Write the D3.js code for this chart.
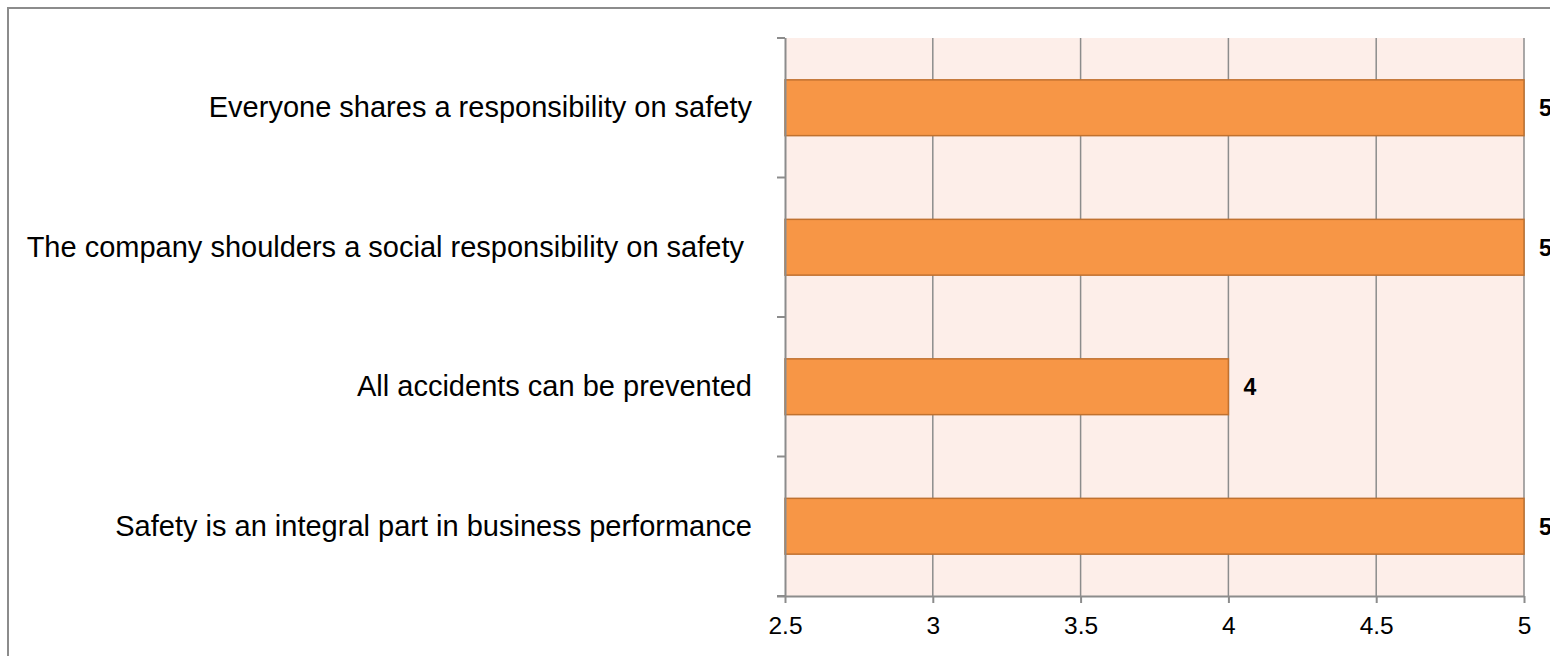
<!DOCTYPE html>
<html><head><meta charset="utf-8">
<script src="https://cdn.jsdelivr.net/npm/d3@7"></script>
<style>
html,body{margin:0;padding:0;background:#fff;}
svg{display:block;font-family:"Liberation Sans",Arial,sans-serif;}
</style></head>
<body>
<svg id="chart" width="1550" height="656"></svg>
<script>
const categories = [
  "Everyone shares a responsibility on safety",
  "The company shoulders a social responsibility on safety ",
  "All accidents can be prevented",
  "Safety is an integral part in business performance"
];
const values = [5, 5, 4, 5];
const xTicks = [2.5, 3, 3.5, 4, 4.5, 5];

const svg = d3.select("#chart");
const pLeft = 785, pRight = 1524, pTop = 38, pBottom = 596;

// outer border
svg.append("rect").attr("x", 8).attr("y", 8).attr("width", 1600).attr("height", 700)
  .attr("fill", "none").attr("stroke", "#8c8c8c").attr("stroke-width", 2);

const x = d3.scaleLinear().domain([2.5, 5]).range([pLeft, pRight]);
const y = d3.scaleBand().domain(categories).range([pTop, pBottom]).paddingInner(0.6).paddingOuter(0.3);

// plot background
svg.append("rect").attr("x", pLeft).attr("y", pTop).attr("width", pRight - pLeft).attr("height", pBottom - pTop)
  .attr("fill", "#fdeee9");

// vertical gridlines
svg.append("g").selectAll("line").data(xTicks.slice(1)).join("line")
  .attr("x1", d => x(d)).attr("x2", d => x(d)).attr("y1", pTop).attr("y2", pBottom)
  .attr("stroke", "#8c8c8c").attr("stroke-width", 1.5);

// bars
svg.append("g").selectAll("rect").data(categories).join("rect")
  .attr("x", x(2.5)).attr("y", d => y(d))
  .attr("width", (d, i) => x(values[i]) - x(2.5)).attr("height", y.bandwidth())
  .attr("fill", "#f79646").attr("stroke", "#c0712f").attr("stroke-width", 1.5);

// value labels
svg.append("g").selectAll("text").data(categories).join("text")
  .attr("x", (d, i) => x(values[i]) + 15).attr("y", d => y(d) + y.bandwidth() / 2)
  .attr("dy", "0.36em").attr("font-size", 23).attr("font-weight", "bold").attr("fill", "#000")
  .text((d, i) => values[i]);

// x axis
const xAxis = d3.axisBottom(x).tickValues(xTicks).tickSize(7).tickPadding(14)
  .tickFormat(d => d3.format("")(d));
const gx = svg.append("g").attr("transform", `translate(0,${pBottom})`).call(xAxis);
gx.select(".domain").attr("stroke", "#8c8c8c").attr("stroke-width", 2)
  .attr("d", `M${pLeft - 8},0.5H${pRight}`);
gx.selectAll(".tick line").attr("stroke", "#8c8c8c").attr("stroke-width", 2);
gx.selectAll(".tick text").attr("font-size", 24.5).attr("fill", "#000")
  .attr("font-family", "'Liberation Sans', Arial, sans-serif");

// y axis
const yAxis = d3.axisLeft(y).tickSize(0).tickPadding(33);
const gy = svg.append("g").attr("transform", `translate(${pLeft},0)`).call(yAxis);
gy.select(".domain").attr("stroke", "#8c8c8c").attr("stroke-width", 2).attr("d", `M0.5,${pTop}V${pBottom}`);
gy.selectAll(".tick text").attr("font-size", 29).attr("fill", "#000").style("white-space", "pre")
  .attr("font-family", "'Liberation Sans', Arial, sans-serif");

// y boundary ticks
const bounds = [pTop].concat(categories.map(c => y(c) + y.bandwidth() + y.step() * y.paddingInner() / 2));
bounds[bounds.length - 1] = pBottom;
svg.append("g").selectAll("line").data(bounds).join("line")
  .attr("x1", pLeft - 8).attr("x2", pLeft).attr("y1", d => d).attr("y2", d => d)
  .attr("stroke", "#8c8c8c").attr("stroke-width", 2);
</script>
</body></html>
